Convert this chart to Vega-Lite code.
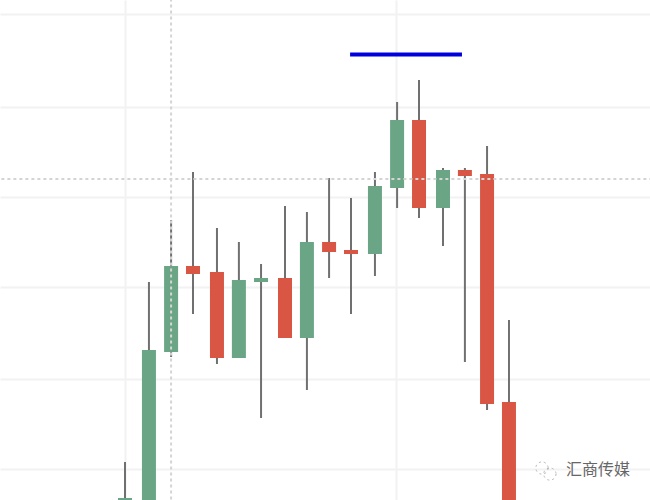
{"$schema":"https://vega.github.io/schema/vega-lite/v6.json","width":650,"height":500,"autosize":{"type":"fit","contains":"padding"},"padding":0,"background":"#ffffff","config":{"view":{"stroke":null}},"datasets":{"candles":[
{"t":0,"high":1007.7,"low":940,"open":940,"close":968.1,"dir":"up"},
{"t":1.06,"high":1205.7,"low":940,"open":940,"close":1130.9,"dir":"up"},
{"t":2.04,"high":1273.9,"low":1123.2,"open":1128.7,"close":1223.3,"dir":"up"},
{"t":3.01,"high":1326.7,"low":1170.5,"open":1223.3,"close":1214.5,"dir":"down"},
{"t":4.07,"high":1265.1,"low":1115.5,"open":1216.7,"close":1122.1,"dir":"down"},
{"t":5.04,"high":1249.7,"low":1122.1,"open":1122.1,"close":1207.9,"dir":"up"},
{"t":6.02,"high":1225.5,"low":1056.1,"open":1205.7,"close":1210.1,"dir":"up"},
{"t":7.08,"high":1289.3,"low":1144.1,"open":1210.1,"close":1144.1,"dir":"down"},
{"t":8.05,"high":1282.7,"low":1086.9,"open":1144.1,"close":1249.7,"dir":"up"},
{"t":9.03,"high":1320.1,"low":1210.1,"open":1249.7,"close":1238.7,"dir":"down"},
{"t":10,"high":1298.1,"low":1170.5,"open":1240.9,"close":1236.5,"dir":"down"},
{"t":11.06,"high":1326.7,"low":1212.3,"open":1236.5,"close":1311.3,"dir":"up"},
{"t":12.04,"high":1403.7,"low":1287.1,"open":1309.1,"close":1383.9,"dir":"up"},
{"t":13.01,"high":1427.9,"low":1276.1,"open":1383.9,"close":1287.1,"dir":"down"},
{"t":14.07,"high":1331.1,"low":1245.3,"open":1287.1,"close":1328.9,"dir":"up"},
{"t":15.04,"high":1331.1,"low":1117.7,"open":1328.9,"close":1322.3,"dir":"down"},
{"t":16.02,"high":1355.3,"low":1064.9,"open":1324.5,"close":1071.5,"dir":"down"},
{"t":16.99,"high":1163.9,"low":940,"open":1073.7,"close":940,"dir":"down"}
]},"encoding":{"x":{"field":"t","type":"quantitative","scale":{"domain":[-5.53,23.23],"nice":false,"zero":false,"padding":0},"axis":{"values":[0,12],"grid":true,"gridColor":"#f3f2f3","gridWidth":2,"labels":false,"ticks":false,"domain":false,"title":null}},"y":{"field":"p","type":"quantitative","scale":{"domain":[965.9,1515.9],"nice":false,"zero":false},"axis":{"values":[1000,1099,1200,1299,1398,1500],"grid":true,"gridColor":"#f3f2f3","gridWidth":2,"labels":false,"ticks":false,"domain":false,"title":null}}},"layer":[
{"data":{"name":"candles"},"mark":{"type":"rule","color":"#707070","strokeWidth":2,"clip":true},"encoding":{"y":{"field":"high","type":"quantitative"},"y2":{"field":"low"}}},
{"data":{"name":"candles"},"mark":{"type":"bar","size":14,"clip":true},"encoding":{"y":{"field":"open","type":"quantitative"},"y2":{"field":"close"},"color":{"field":"dir","type":"nominal","scale":{"domain":["up","down"],"range":["#6aa585","#d95645"]},"legend":null}}},
{"data":{"values":[{"t":2.04,"a":940,"b":1520}]},"mark":{"type":"rule","color":"#d4d4d4","strokeWidth":2,"strokeDash":[3,3],"clip":true},"encoding":{"y":{"field":"a","type":"quantitative"},"y2":{"field":"b"}}},
{"data":{"values":[{"a":-6,"b":24,"p":1319}]},"mark":{"type":"rule","color":"#d4d4d4","strokeWidth":2,"strokeDash":[3,3],"clip":true},"encoding":{"x":{"field":"a","type":"quantitative"},"x2":{"field":"b"}}},
{"data":{"values":[{"a":9.96,"b":14.91,"p":1455.9}]},"mark":{"type":"rule","color":"#0000dc","strokeWidth":4},"encoding":{"x":{"field":"a","type":"quantitative"},"x2":{"field":"b"}}},
{"data":{"values":[{"t":18.45,"p":1001.1,"r":"a"},{"t":18.8,"p":994.5,"r":"b"}]},"mark":{"type":"point","filled":false,"size":150,"stroke":"#999999","strokeWidth":1,"strokeDash":[2,3]}},
{"data":{"values":[{"t":20.93,"p":998.9,"label":"汇商传媒"}]},"mark":{"type":"text","font":"Noto Sans CJK SC","fontSize":16,"color":"#666666","align":"center","baseline":"middle"},"encoding":{"text":{"field":"label","type":"nominal"}}}
]}
